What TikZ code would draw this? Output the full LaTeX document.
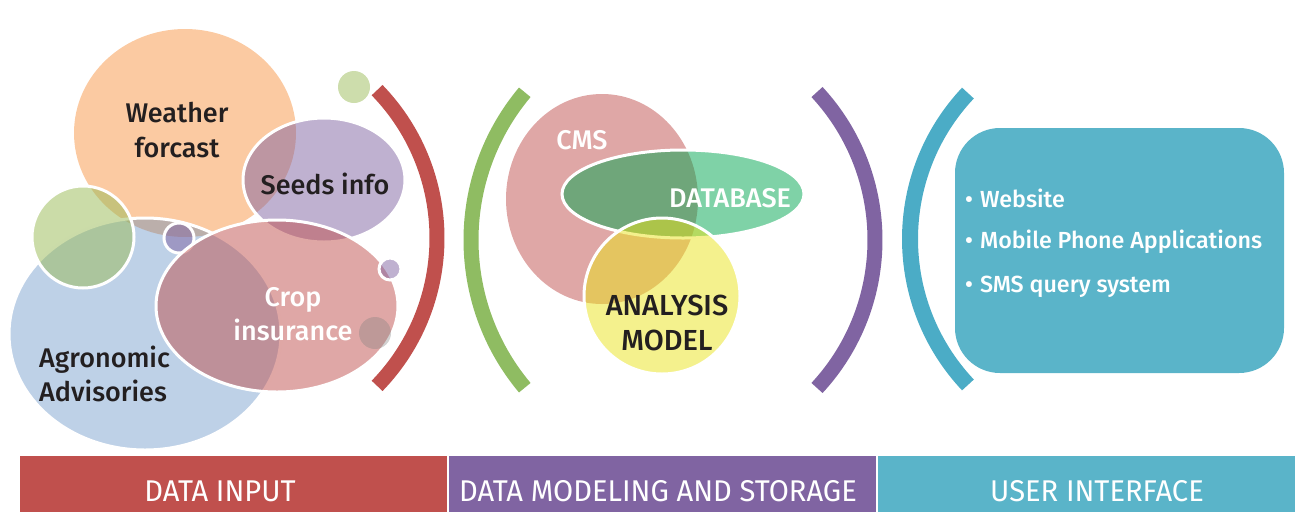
\documentclass[tikz,border=0pt]{standalone}
\usepackage{fontspec}
\setmainfont{Fira Sans}[UprightFont=* Medium, BoldFont=* SemiBold]
\newfontfamily\barfont{Fira Sans}
\definecolor{cred}{HTML}{C0504D}
\definecolor{corange}{HTML}{F79646}
\definecolor{cblue}{HTML}{4F81BD}
\definecolor{cgreen}{HTML}{9BBB59}
\definecolor{cpurple}{HTML}{8064A2}
\definecolor{cteal}{HTML}{4BACC6}
\definecolor{cbox}{HTML}{5AB4C9}
\definecolor{cdb}{HTML}{00A650}
\definecolor{cyel}{HTML}{E9E31C}
\definecolor{ctext}{HTML}{231F20}
\definecolor{cgreenarc}{HTML}{8FBC62}
\begin{document}
\begin{tikzpicture}[x=1pt,y=-1pt,
  blob/.style={fill opacity=#1, draw=white, line width=3pt, draw opacity=1},
  blob/.default=0.5,
  plain/.style={fill opacity=#1},
  plain/.default=0.5,
  lbl/.style={font=\fontsize{27}{34.5}\selectfont, text=ctext, align=center, inner sep=0pt},
  wlbl/.style={font=\fontsize{27}{34.5}\selectfont, text=white, align=center, inner sep=0pt},
  bracket/.style={line width=15pt},
  item/.style={font=\fontsize{23.3}{24}\selectfont, text=white, anchor=west, inner sep=0pt},
  bar/.style={minimum height=56pt, inner sep=0pt},
  barlbl/.style={text=white, font=\barfont\fontsize{30}{32}\selectfont, inner sep=0pt},
]
\useasboundingbox (0,0) rectangle (1295,512);

% ---------- left group ----------
\fill[plain, fill=corange] (185,133) ellipse [x radius=111, y radius=104];
\path[blob=0.37, fill=cblue] (145,334) ellipse [x radius=136, y radius=116];
\path[blob=0.52, fill=cgreen] (83,237) circle [radius=51];
\path[blob=0.5, fill=cpurple] (179,238) circle [radius=15];
\path[blob=0.5, fill=cpurple] (324,180) ellipse [x radius=81, y radius=62];
\path[blob=0.5, fill=cred] (277,306) ellipse [x radius=121, y radius=86];
\path[blob=0.5, fill=cpurple] (390,269) circle [radius=11];
\fill[plain=0.35, fill=gray] (375,333) circle [radius=16];
\fill[plain=0.5, fill=cgreen] (354,87) circle [radius=16];

\node[lbl] (wf) at (177,130) {Weather\\forcast};
\node[lbl] (si) at (325,184) {Seeds info};
\node[wlbl] (ci) at (293,314) {Crop\\insurance};
\node[lbl, align=left, anchor=west] (aa) at (39,374) {Agronomic\\Advisories};

\draw[bracket, cred] (224.5,238) ++(-44.1:212.5) arc[start angle=-44.1, end angle=44.1, radius=212.5];

% ---------- middle group ----------
\draw[bracket, cgreenarc] (700.8,240) ++(140:229.8) arc[start angle=140, end angle=220, radius=229.8];
\fill[plain=0.5, fill=cred] (602,199) ellipse [x radius=96, y radius=105];
\path[blob=0.5, fill=cdb] (683,194) ellipse [x radius=121, y radius=44];
\path[blob=0.5, fill=cyel] (662,296) circle [radius=78];
\node[wlbl] (cms) at (582,140) {CMS};
\node[wlbl] (db) at (730,198) {DATABASE};
\node[lbl, font=\fontsize{29}{34.5}\selectfont] (am) at (667,323) {ANALYSIS\\MODEL};
\draw[bracket, cpurple] (657.2,240) ++(-42.8:217.8) arc[start angle=-42.8, end angle=42.8, radius=217.8];

% ---------- right group ----------
\draw[bracket, cteal, line width=16pt] (1122.8,239) ++(136.7:212.8) arc[start angle=136.7, end angle=223.3, radius=212.8];
\node[fill=cbox, rounded corners=45pt, minimum width=329pt, minimum height=245pt, inner sep=0pt] (ui) at (1119.5,250.5) {};
\node[item] (i1) at (965,198) {\textbullet\hspace{7pt}Website};
\node[item] (i2) at (965,242) {\textbullet\hspace{7pt}Mobile Phone Applications};
\node[item] (i3) at (965,287) {\textbullet\hspace{7pt}SMS query system};

% ---------- bottom bars ----------
\node[bar, fill=cred, minimum width=427pt] (b1) at (233.5,484) {};
\node[bar, fill=cpurple, minimum width=427pt] (b2) at (662.5,484) {};
\node[bar, fill=cbox, minimum width=417pt] (b3) at (1086.5,484) {};
\node[barlbl] (t1) at (220,491) {\scalebox{0.97}[1]{DATA INPUT}};
\node[barlbl] (t2) at (658,491) {\scalebox{0.97}[1]{DATA MODELING AND STORAGE}};
\node[barlbl] (t3) at (1097,491) {\scalebox{0.97}[1]{USER INTERFACE}};
\end{tikzpicture}
\end{document}
